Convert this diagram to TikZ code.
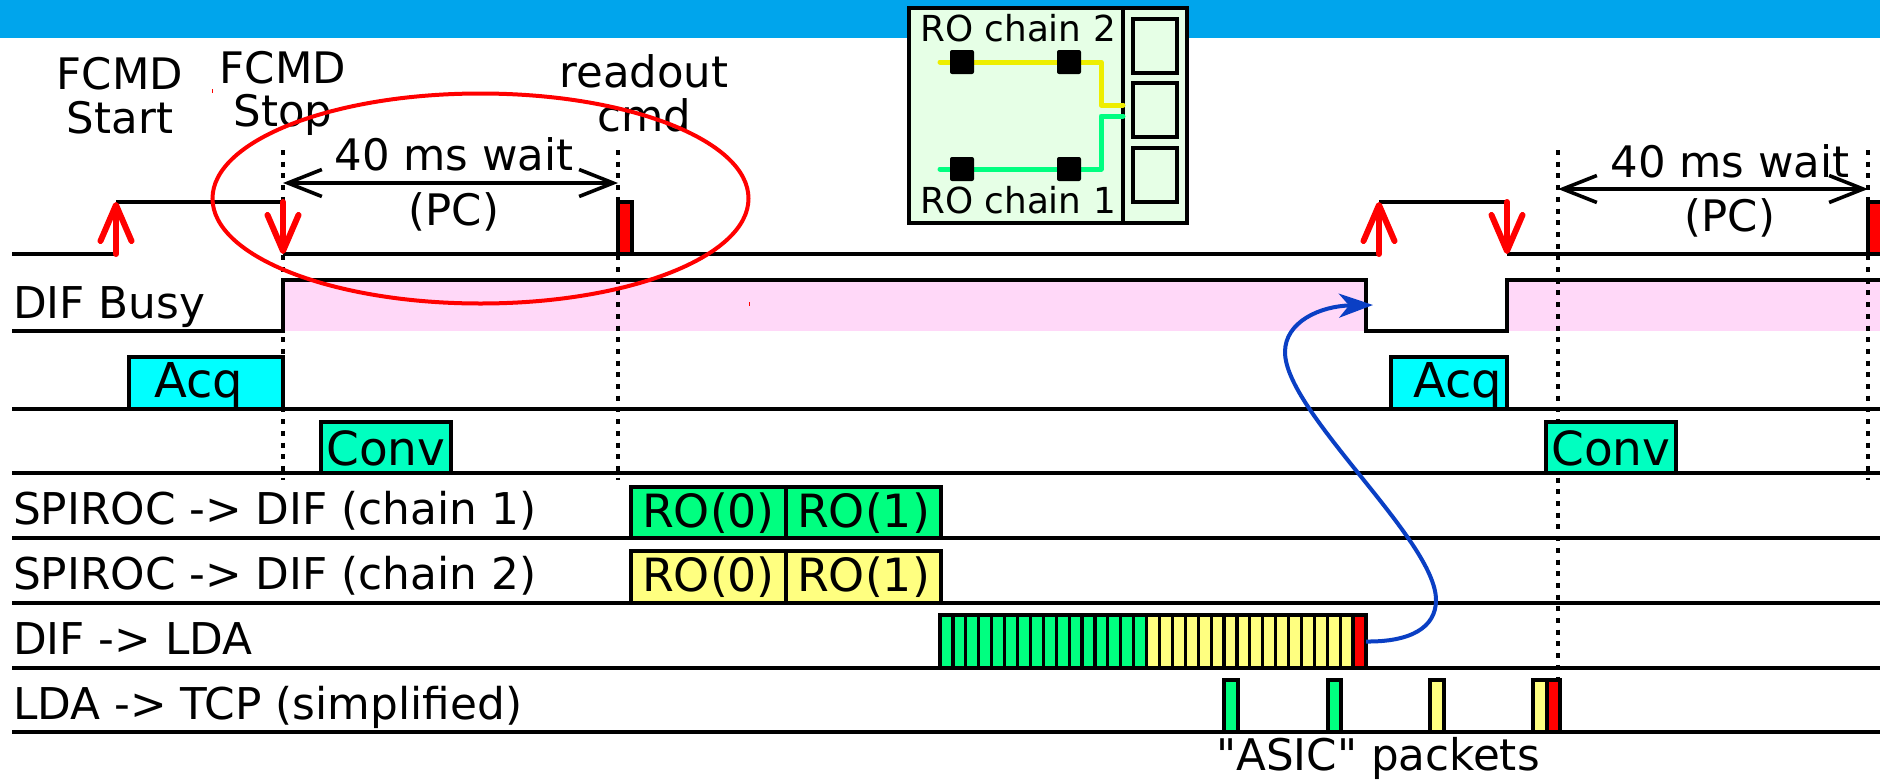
\documentclass[tikz,border=0pt]{standalone}
\usepackage{fontspec}
\setmainfont[Ligatures=TeXOff]{DejaVu Sans}
\usetikzlibrary{arrows.meta}
\definecolor{bandblue}{HTML}{00A5EC}
\definecolor{busypink}{HTML}{FFD8F8}
\definecolor{acqcyan}{HTML}{00FFFF}
\definecolor{convgreen}{HTML}{00FFC0}
\definecolor{rogreen}{HTML}{00FF80}
\definecolor{royellow}{HTML}{FFFF80}
\definecolor{insetgreen}{HTML}{E6FFE6}
\definecolor{chainyellow}{HTML}{EEEE00}
\definecolor{curveblue}{HTML}{0A3FC4}
\tikzset{
  sigline/.style={line width=1.6pt,black},
  sigcell/.style={draw=black,line width=1.6pt,inner sep=0pt,outer sep=0pt},
  label/.style={inner sep=0pt,outer sep=0pt,font=\fontsize{21.7}{21.7}\selectfont},
  rowlabel/.style={inner sep=0pt,outer sep=0pt,font=\fontsize{21.9}{22}\selectfont,anchor=base west},
  celltext/.style={label,anchor=base},
  dotline/.style={line width=2pt,black,dash pattern=on 2.5pt off 3.35pt},
  waitarrow/.style={line width=1.8pt,black,{Straight Barb[length=17pt,width=13.5pt]}-{Straight Barb[length=17pt,width=13.5pt]}},
  fcmdarrow/.style={line width=3pt,red,line cap=round,-{Straight Barb[length=18pt,width=15.5pt,round]}},
  chainline/.style={line width=2.5pt,line cap=round,line join=round},
  chip/.style={fill=black,rounded corners=1pt,minimum size=12pt,inner sep=0pt,outer sep=0pt},
  chaintext/.style={inner sep=0pt,anchor=base,font=\fontsize{17.9}{20}\selectfont}
}
\newcommand\sigbox[6]{%
  \pgfmathsetmacro\cellw{(#4-#2)*0.5}%
  \pgfmathsetmacro\cellh{(#5-#3)*0.5}%
  \node[sigcell,fill=#6,minimum width=\cellw pt,minimum height=\cellh pt,anchor=south west] (#1) at (#2,#5) {};%
}
\begin{document}
\begin{tikzpicture}[x=0.5pt,y=-0.5pt]
\useasboundingbox (0,0) rectangle (1880,782);
\fill[white] (0,0) rectangle (1880,782);
\fill[bandblue] (0,0) rectangle (1880,38);
% busy shading
\fill[busypink] (283,280) rectangle (1366,331);
\fill[busypink] (1507,280) rectangle (1880,331);
% named points
\coordinate (r0a) at (12,254); \coordinate (r0b) at (116,254);
\coordinate (r0c) at (116,202); \coordinate (r0d) at (283,202);
\coordinate (r0e) at (283,254); \coordinate (r0f) at (1379,254);
\coordinate (r0g) at (1379,202); \coordinate (r0h) at (1507,202);
\coordinate (r0i) at (1507,254); \coordinate (r0j) at (1880,254);
\draw[sigline] (r0a) -- (r0b);
\draw[sigline] (r0c) -- (r0d);
\draw[sigline] (r0e) -- (r0f);
\draw[sigline] (r0g) -- (r0h);
\draw[sigline] (r0i) -- (r0j);
% busy trace
\coordinate (b0) at (12,331); \coordinate (b1) at (283,331); \coordinate (b2) at (283,280);
\coordinate (b3) at (1366,280); \coordinate (b4) at (1366,331); \coordinate (b5) at (1507,331);
\coordinate (b6) at (1507,280); \coordinate (b7) at (1880,280);
\draw[sigline,line join=miter] (b0) -- (b1) -- (b2) -- (b3) -- (b4) -- (b5) -- (b6) -- (b7);
% row lines
\foreach \n/\y in {acq/409,conv/473,ca/538,cb/603,dl/668,lt/732}{
  \coordinate (\n L) at (12,\y); \coordinate (\n R) at (1880,\y);
  \draw[sigline] (\n L) -- (\n R);
}
% dotted guides
\coordinate (d1t) at (283,150); \coordinate (d1b) at (283,480);
\coordinate (d2t) at (618,150); \coordinate (d2b) at (618,480);
\coordinate (d3t) at (1558,150); \coordinate (d3b) at (1558,680);
\coordinate (d4t) at (1868,150); \coordinate (d4b) at (1868,480);
% pulses and boxes
\sigbox{p1}{618}{202}{632}{254}{red}
\sigbox{p2}{1868}{202}{1884}{254}{red}
\sigbox{acq1}{129}{357}{283}{409}{acqcyan}
\sigbox{acq2}{1391}{357}{1507}{409}{acqcyan}
\sigbox{conv1}{321}{422}{451}{473}{convgreen}
\draw[dotline] (d1t) -- (d1b);
\draw[dotline] (d2t) -- (d2b);
\draw[dotline] (d3t) -- (d3b);
\draw[dotline] (d4t) -- (d4b);
\sigbox{conv2}{1546}{422}{1676}{473}{convgreen}
\sigbox{ro1a}{631}{487}{786}{538}{rogreen}
\sigbox{ro1b}{786}{487}{941}{538}{rogreen}
\sigbox{ro2a}{631}{551}{786}{603}{royellow}
\sigbox{ro2b}{786}{551}{941}{603}{royellow}
% DIF -> LDA segments
\foreach \i in {0,...,15}{
  \pgfmathsetmacro\xa{940+12.91*\i}\pgfmathsetmacro\xb{\xa+12.91}
  \sigbox{seg\i}{\xa}{615}{\xb}{668}{rogreen}
}
\foreach \i in {16,...,31}{
  \pgfmathsetmacro\xa{940+12.91*\i}\pgfmathsetmacro\xb{\xa+12.91}
  \sigbox{seg\i}{\xa}{615}{\xb}{668}{royellow}
}
\sigbox{seg32}{1353}{615}{1366}{668}{red}
% LDA -> TCP packets
\sigbox{pk1}{1224}{680}{1238}{732}{rogreen}
\sigbox{pk2}{1328}{680}{1341}{732}{rogreen}
\sigbox{pk3}{1430}{680}{1444}{732}{royellow}
\sigbox{pk4}{1533}{680}{1547}{732}{royellow}
\sigbox{pk5}{1547}{680}{1560}{732}{red}
% wait arrows
\coordinate (w1a) at (283,183); \coordinate (w1b) at (618,183);
\coordinate (w2a) at (1558,189); \coordinate (w2b) at (1868,189);
\draw[waitarrow] (w1a) -- (w1b);
\draw[waitarrow] (w2a) -- (w2b);
% red fcmd arrows
\coordinate (u1a) at (116,254); \coordinate (u1b) at (116,202);
\coordinate (u2a) at (283,202); \coordinate (u2b) at (283,254);
\coordinate (u3a) at (1379,254); \coordinate (u3b) at (1379,202);
\coordinate (u4a) at (1507,202); \coordinate (u4b) at (1507,254);
\draw[fcmdarrow] (u1a) -- (u1b);
\draw[fcmdarrow] (u2a) -- (u2b);
\draw[fcmdarrow] (u3a) -- (u3b);
\draw[fcmdarrow] (u4a) -- (u4b);
% texts
\node[label,align=center,anchor=center] (t1) at (120,95.5) {FCMD\\Start};
\node[label,align=center,anchor=center] (t2) at (283,93.5) {FCMD\\Stop};
\node[label,align=center,anchor=center] (t3) at (644,93.5) {readout\\cmd};
\node[celltext] (t4) at (454,170) {40 ms wait};
\node[celltext] (t5) at (454,225) {(PC)};
\node[celltext] (t6) at (1730,177) {40 ms wait};
\node[celltext] (t7) at (1730,231) {(PC)};
\node[rowlabel] (l1) at (13,318) {DIF Busy};
\node[rowlabel] (l2) at (13,524) {SPIROC -> DIF (chain 1)};
\node[rowlabel] (l3) at (13,589) {SPIROC -> DIF (chain 2)};
\node[rowlabel] (l4) at (13,654) {DIF -> LDA};
\node[rowlabel] (l5) at (13,719) {LDA -> TCP (simplified)};
\node[celltext,font=\fontsize{24}{24}\selectfont] (a1) at (198.5,397) {Acq};
\node[celltext,font=\fontsize{24}{24}\selectfont] (a2) at (1457.5,397) {Acq};
\node[celltext,font=\fontsize{23.5}{24}\selectfont] (c1) at (386,465) {Conv};
\node[celltext,font=\fontsize{23.5}{24}\selectfont] (c2) at (1611,465) {Conv};
\node[celltext,font=\fontsize{22.9}{24}\selectfont] (r1) at (708.5,527) {RO(0)};
\node[celltext,font=\fontsize{22.9}{24}\selectfont] (r2) at (863.5,527) {RO(1)};
\node[celltext,font=\fontsize{22.9}{24}\selectfont] (r3) at (708.5,591) {RO(0)};
\node[celltext,font=\fontsize{22.9}{24}\selectfont] (r4) at (863.5,591) {RO(1)};
\node[celltext,font=\fontsize{21.8}{24}\selectfont] (as) at (1378,770) {"ASIC" packets};
% red ellipse with specks
\draw[red,line width=2pt] (480.5,198.5) ellipse [x radius=268,y radius=105];
\fill[red] (211.5,89) rectangle (212.5,93);
\fill[red] (748.5,302) rectangle (749.5,306);
% blue curve
\coordinate (ce) at (1373,305);
\coordinate (c1a) at (1436,600);
\coordinate (c1b) at (1285,352);
\draw[curveblue,line width=2pt,-{Stealth[length=17pt,width=12pt,inset=5pt]}]
  (seg32.east) .. controls (1410,642) and (1436,628) .. (c1a)
  .. controls (1436,540) and (1285,412) .. (c1b)
  .. controls (1285,322) and (1320,306) .. (ce);
% inset
\node[sigcell,fill=insetgreen,minimum width=139pt,minimum height=107.5pt,anchor=north west] (inset) at (909,8) {};
\coordinate (divt) at (1123,8); \coordinate (divb) at (1123,223);
\draw[sigline] (divt) -- (divb);
\sigbox{s1}{1133}{19}{1177}{73}{insetgreen}
\sigbox{s2}{1133}{83}{1177}{137}{insetgreen}
\sigbox{s3}{1133}{148}{1177}{202}{insetgreen}
\coordinate (ya) at (940,62); \coordinate (yb) at (1101,62); \coordinate (yc) at (1101,105); \coordinate (yd) at (1123,105);
\coordinate (ga) at (940,169); \coordinate (gb) at (1101,169); \coordinate (gc) at (1101,116); \coordinate (gd) at (1123,116);
\draw[chainline,chainyellow] (ya) -- (yb) -- (yc) -- (yd);
\draw[chainline,rogreen] (ga) -- (gb) -- (gc) -- (gd);
\node[chip] (k1) at (962,62) {};
\node[chip] (k2) at (1069,62) {};
\node[chip] (k3) at (962,169) {};
\node[chip] (k4) at (1069,169) {};
\node[chaintext] (h2) at (1018,41) {RO chain 2};
\node[chaintext] (h1) at (1018,213) {RO chain 1};
\end{tikzpicture}
\end{document}
